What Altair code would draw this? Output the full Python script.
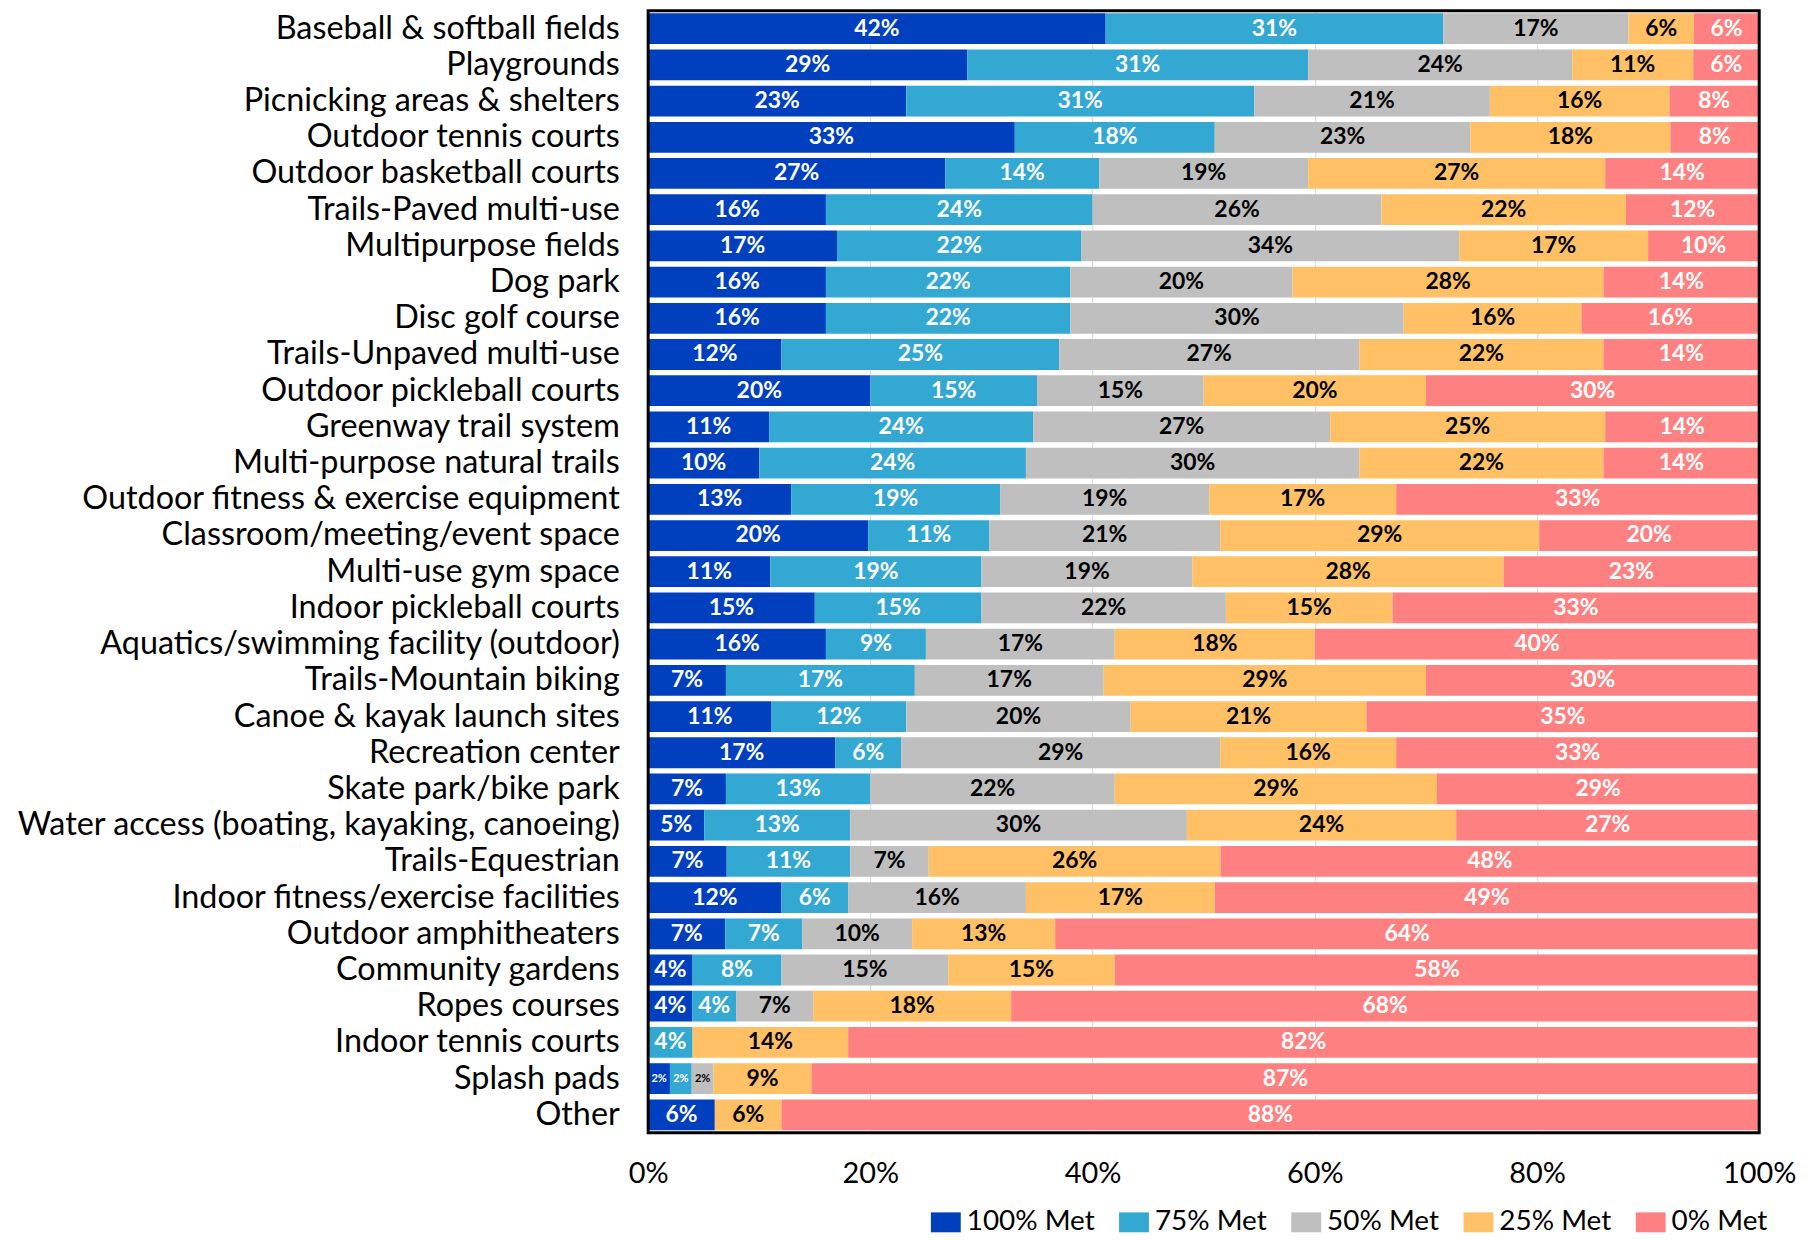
import altair as alt
import pandas as pd

facilities = [
    "Baseball & softball fields", "Playgrounds", "Picnicking areas & shelters",
    "Outdoor tennis courts", "Outdoor basketball courts", "Trails-Paved multi-use",
    "Multipurpose fields ", "Dog park", "Disc golf course", "Trails-Unpaved multi-use",
    "Outdoor pickleball courts", "Greenway trail system", "Multi-purpose natural trails",
    "Outdoor fitness & exercise equipment", "Classroom/meeting/event space",
    "Multi-use gym space ", "Indoor pickleball courts",
    "Aquatics/swimming facility (outdoor)", "Trails-Mountain biking",
    "Canoe & kayak launch sites", "Recreation center", "Skate park/bike park",
    "Water access (boating, kayaking, canoeing)", "Trails-Equestrian",
    "Indoor fitness/exercise facilities", "Outdoor amphitheaters", "Community gardens",
    "Ropes courses", "Indoor tennis courts", "Splash pads", "Other",
]
categories = ["100% Met", "75% Met", "50% Met", "25% Met", "0% Met"]
colors = ["#0040BF", "#33A8D2", "#BFBFBF", "#FFC066", "#FF8080"]

met_100 = [42, 29, 23, 33, 27, 16, 17, 16, 16, 12, 20, 11, 10, 13, 20, 11, 15, 16, 7, 11, 17, 7, 5, 7, 12, 7, 4, 4, 0, 2, 6]
met_75 = [31, 31, 31, 18, 14, 24, 22, 22, 22, 25, 15, 24, 24, 19, 11, 19, 15, 9, 17, 12, 6, 13, 13, 11, 6, 7, 8, 4, 4, 2, 0]
met_50 = [17, 24, 21, 23, 19, 26, 34, 20, 30, 27, 15, 27, 30, 19, 21, 19, 22, 17, 17, 20, 29, 22, 30, 7, 16, 10, 15, 7, 0, 2, 0]
met_25 = [6, 11, 16, 18, 27, 22, 17, 28, 16, 22, 20, 25, 22, 17, 29, 28, 15, 18, 29, 21, 16, 29, 24, 26, 17, 13, 15, 18, 14, 9, 6]
met_0 = [6, 6, 8, 8, 14, 12, 10, 14, 16, 14, 30, 14, 14, 33, 20, 23, 33, 40, 30, 35, 33, 29, 27, 48, 49, 64, 58, 68, 82, 87, 88]

series = [met_100, met_75, met_50, met_25, met_0]
rows = []
for fi, f in enumerate(facilities):
    for ci, c in enumerate(categories):
        rows.append({"facility": f, "cat": c, "order": ci, "value": series[ci][fi]})
df = pd.DataFrame(rows)

FONT = "Lato"
W, H = 1116, 1127

base = alt.Chart(df).transform_filter(
    "datum.value > 0"
).transform_stack(
    stack="value", groupby=["facility"], sort=[alt.SortField("order", order="ascending")],
    as_=["v0", "v1"], offset="normalize"
).transform_calculate(
    mid="(datum.v0 + datum.v1) / 2",
    label="datum.value + '%'",
    tc="(datum.cat == '50% Met' || datum.cat == '25% Met') ? 'black' : 'white'",
    fs="datum.value < 3 ? 11 : 23",
)

yenc = alt.Y(
    "facility:N", sort=facilities, title=None,
    scale=alt.Scale(paddingInner=0.15, paddingOuter=0.07),
    axis=alt.Axis(labelFontSize=32.5, labelFont=FONT, labelColor="black", labelPadding=29,
                  ticks=False, domain=False, labelLimit=0, grid=False),
)

xscale = alt.Scale(domain=[0, 1], nice=False, zero=True)

bars = base.mark_bar().encode(
    x=alt.X("v0:Q", scale=xscale, title=None,
            axis=alt.Axis(format="%", values=[0, 0.2, 0.4, 0.6, 0.8, 1.0], labelFontSize=29,
                          labelFont=FONT, labelColor="black", labelPadding=27, ticks=False,
                          domain=False, grid=True, gridColor="#D9D9D9", gridWidth=1,
                          labelFlush=False)),
    x2="v1:Q",
    y=yenc,
    color=alt.Color(
        "cat:N", scale=alt.Scale(domain=categories, range=colors), title=None,
        legend=alt.Legend(
            orient="none", legendX=285, legendY=1203, direction="horizontal",
            labelFont=FONT, labelFontSize=28, labelColor="black",
            symbolType="M-1.5,-1L1.5,-1L1.5,1L-1.5,1Z", symbolSize=400,
            symbolStrokeWidth=0, symbolOpacity=1, columnPadding=24, labelOffset=7,
        ),
    ),
)

texts = base.mark_text(font=FONT, fontWeight="bold", baseline="middle", align="center").encode(
    x=alt.X("mid:Q", scale=xscale),
    y=alt.Y("facility:N", sort=facilities),
    text="label:N",
    color=alt.Color("tc:N", scale=None),
    size=alt.Size("fs:Q", scale=None),
)

frame = alt.Chart(pd.DataFrame({"a": [0]})).mark_rect(
    fillOpacity=0, stroke="black", strokeWidth=3
).encode(
    x=alt.value(0), x2=alt.value(W), y=alt.value(0), y2=alt.value(H)
)

chart = alt.layer(bars, texts, frame).properties(
    width=W, height=H,
    autosize=alt.AutoSizeParams(type="none"),
    padding={"left": 643, "top": 0, "right": 45, "bottom": 105},
).configure_view(strokeWidth=0).configure(background="white")

chart.save("out.html", embed_options={"renderer": "svg", "actions": False})
